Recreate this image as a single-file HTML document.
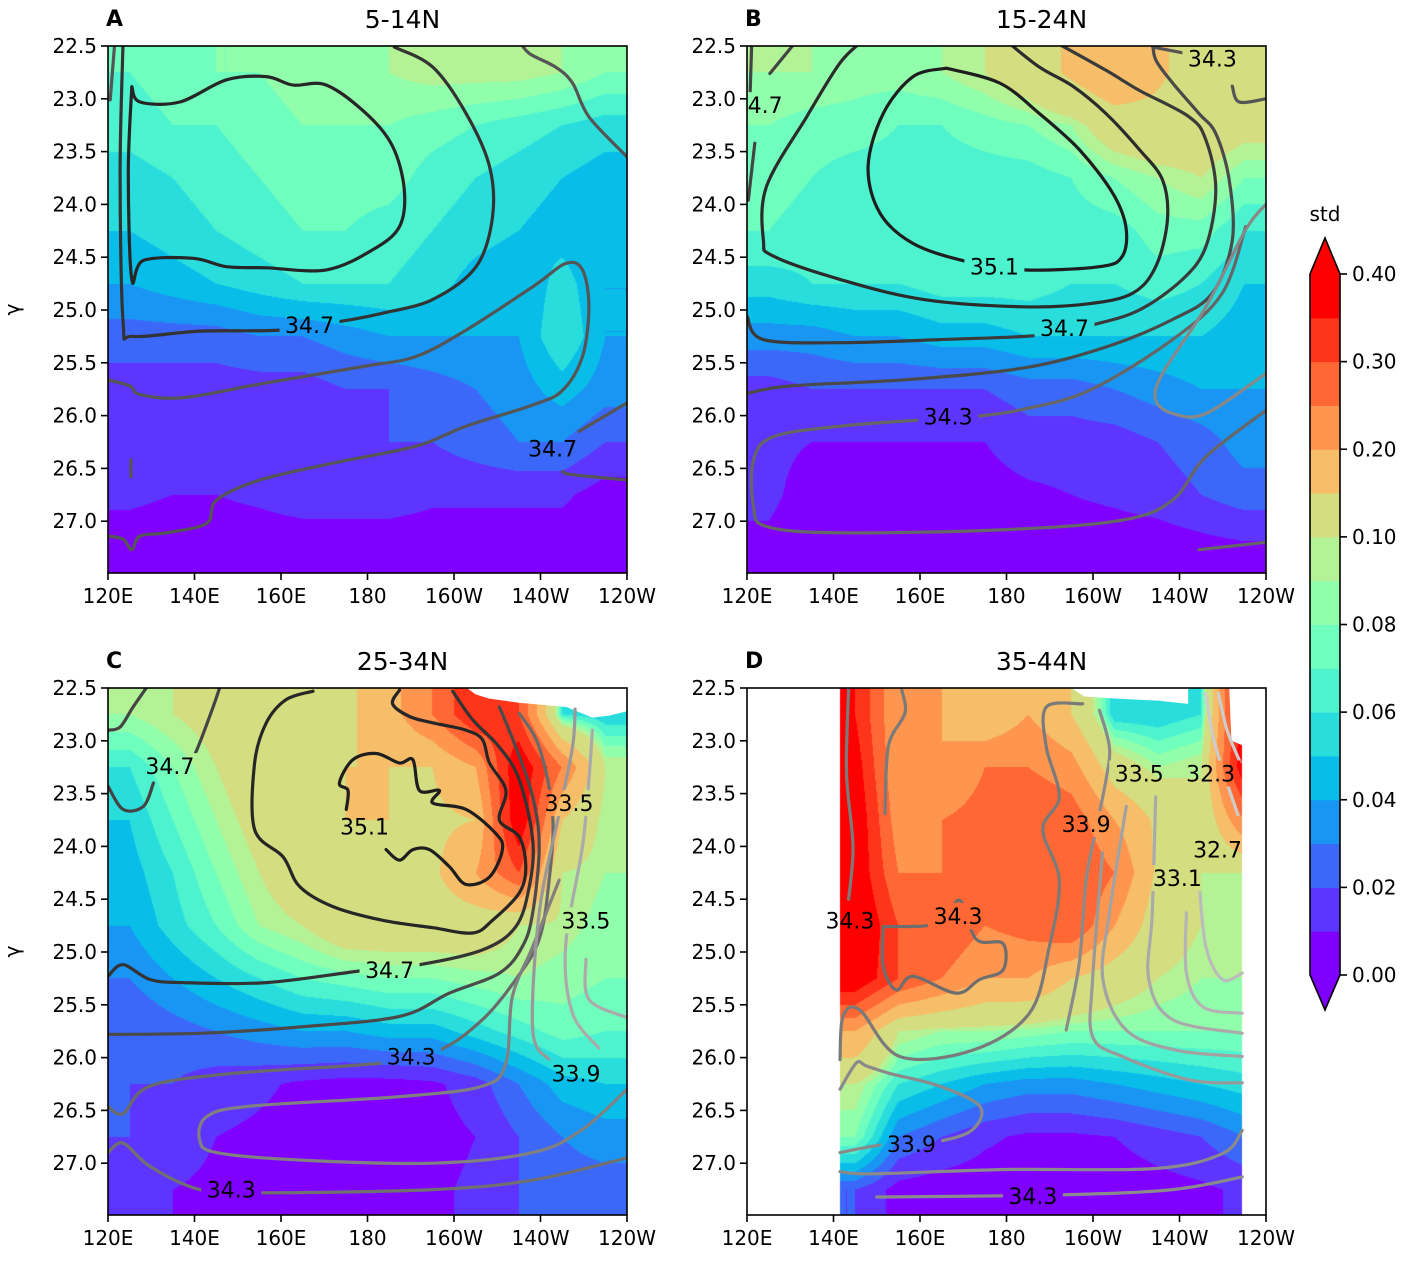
<!DOCTYPE html>
<html><head><meta charset="utf-8">
<style>
html,body{margin:0;padding:0;background:#fff;}
#wrap{position:relative;width:1417px;height:1262px;overflow:hidden;font-family:"DejaVu Sans","Liberation Sans",sans-serif;}
canvas{position:absolute;}
svg{position:absolute;left:0;top:0;}
</style></head>
<body>
<div id="wrap">
<canvas id="cvA" width="519" height="527" style="left:108px;top:46px"></canvas>
<canvas id="cvB" width="519" height="527" style="left:747px;top:46px"></canvas>
<canvas id="cvC" width="519" height="527" style="left:108px;top:688px"></canvas>
<canvas id="cvD" width="519" height="527" style="left:747px;top:688px"></canvas>
<svg id="svg" width="1417" height="1262" xmlns="http://www.w3.org/2000/svg"></svg>
</div>
<script>
// ---------- data ----------
const levels = [0,0.01,0.02,0.03,0.04,0.05,0.06,0.07,0.08,0.09,0.10,0.15,0.20,0.25,0.30,0.35,0.40];
const xTicks = [120,140,160,180,200,220,240];
const xTickLabels = ['120E','140E','160E','180','160W','140W','120W'];
const yTicks = [22.5,23.0,23.5,24.0,24.5,25.0,25.5,26.0,26.5,27.0];
const cbTickLevels = [0,0.02,0.04,0.06,0.08,0.10,0.20,0.30,0.40];
const titles = ['5-14N','15-24N','25-34N','35-44N'];
const letters = ['A','B','C','D'];
const gridLons = [125,135,145,155,165,175,185,195,205,215,225,235];
const gridGammas = [22.75,23.25,23.75,24.25,24.75,25.25,25.75,26.25,26.75,27.25];

const stdA = [
[0.07,0.075,0.08,0.08,0.085,0.085,0.09,0.095,0.095,0.095,0.09,0.08],
[0.065,0.07,0.07,0.075,0.08,0.08,0.08,0.075,0.07,0.065,0.06,0.055],
[0.055,0.06,0.065,0.07,0.075,0.075,0.075,0.065,0.06,0.055,0.05,0.045],
[0.05,0.055,0.06,0.065,0.07,0.07,0.065,0.06,0.055,0.05,0.045,0.04],
[0.04,0.045,0.05,0.055,0.06,0.06,0.06,0.055,0.045,0.04,0.055,0.04],
[0.025,0.025,0.025,0.03,0.03,0.035,0.04,0.04,0.04,0.04,0.06,0.04],
[0.015,0.015,0.015,0.015,0.015,0.02,0.02,0.025,0.03,0.035,0.045,0.035],
[0.02,0.015,0.015,0.015,0.015,0.015,0.02,0.02,0.025,0.03,0.03,0.02],
[0.012,0.01,0.01,0.012,0.015,0.015,0.015,0.012,0.012,0.012,0.012,0.005],
[0.005,0.004,0.004,0.004,0.004,0.004,0.004,0.004,0.004,0.004,0.004,0.004]];
const stdB = [
[0.09,0.09,0.085,0.085,0.09,0.10,0.12,0.16,0.20,0.16,0.12,0.10],
[0.08,0.075,0.075,0.07,0.07,0.075,0.08,0.09,0.12,0.13,0.12,0.11],
[0.075,0.07,0.065,0.065,0.065,0.065,0.065,0.07,0.08,0.09,0.10,0.08],
[0.07,0.065,0.065,0.065,0.065,0.065,0.065,0.065,0.065,0.075,0.075,0.06],
[0.055,0.06,0.06,0.06,0.065,0.065,0.065,0.06,0.06,0.065,0.06,0.05],
[0.035,0.035,0.04,0.04,0.045,0.045,0.05,0.05,0.05,0.05,0.05,0.045],
[0.015,0.02,0.02,0.02,0.02,0.02,0.025,0.025,0.03,0.035,0.04,0.04],
[0.012,0.01,0.01,0.01,0.01,0.01,0.015,0.015,0.015,0.02,0.025,0.035],
[0.012,0.006,0.008,0.006,0.006,0.006,0.008,0.01,0.012,0.015,0.02,0.025],
[0.008,0.004,0.004,0.004,0.004,0.004,0.004,0.004,0.004,0.004,0.006,0.008]];
const stdC = [
[0.09,0.10,0.11,0.12,0.13,0.14,0.18,0.25,0.35,0.30,0.06,0.05],
[0.06,0.08,0.10,0.12,0.14,0.15,0.15,0.15,0.20,0.40,0.25,0.10],
[0.05,0.07,0.09,0.11,0.14,0.15,0.15,0.14,0.15,0.40,0.15,0.09],
[0.045,0.06,0.08,0.10,0.12,0.14,0.15,0.14,0.20,0.30,0.10,0.09],
[0.04,0.055,0.07,0.09,0.10,0.12,0.12,0.12,0.12,0.10,0.095,0.085],
[0.03,0.04,0.05,0.06,0.07,0.075,0.08,0.08,0.085,0.09,0.085,0.08],
[0.02,0.025,0.03,0.035,0.04,0.04,0.045,0.045,0.055,0.065,0.075,0.07],
[0.02,0.02,0.015,0.012,0.008,0.006,0.006,0.008,0.015,0.03,0.045,0.05],
[0.02,0.015,0.01,0.008,0.006,0.005,0.005,0.006,0.01,0.02,0.03,0.035],
[0.012,0.01,0.008,0.006,0.006,0.006,0.006,0.008,0.012,0.02,0.025,0.025]];
const stdD = [
[0.35,0.35,0.35,0.20,0.20,0.15,0.20,0.15,0.05,0.05,0.06,0.40],
[0.38,0.38,0.38,0.20,0.20,0.25,0.25,0.22,0.12,0.09,0.10,0.40],
[0.40,0.40,0.40,0.22,0.25,0.27,0.30,0.28,0.20,0.14,0.10,0.25],
[0.40,0.40,0.40,0.25,0.25,0.30,0.30,0.30,0.25,0.14,0.10,0.10],
[0.42,0.42,0.42,0.30,0.30,0.25,0.27,0.30,0.20,0.12,0.10,0.095],
[0.40,0.40,0.40,0.30,0.25,0.20,0.20,0.15,0.12,0.10,0.09,0.09],
[0.20,0.20,0.20,0.10,0.09,0.09,0.085,0.08,0.08,0.08,0.08,0.08],
[0.10,0.10,0.10,0.06,0.05,0.04,0.035,0.035,0.04,0.045,0.05,0.055],
[0.08,0.08,0.08,0.03,0.02,0.012,0.008,0.008,0.01,0.015,0.02,0.03],
[0.02,0.02,0.02,0.006,0.004,0.004,0.004,0.004,0.004,0.006,0.008,0.012]];
const validLonA = [120,240], validLonB = [120,240], validLonC = [120,240], validLonD = [141.5,234.5];
const missingC = [[203,22.5],[240,22.5],[240,22.72],[236,22.76],[232,22.78],[226,22.68],[215,22.64],[208,22.6],[205,22.56]];
const missingD1 = [[195,22.5],[222,22.5],[222,22.65],[215,22.62],[205,22.6],[198,22.58]];
const missingD2 = [[231.5,22.5],[235,22.5],[235,23.05],[232,23.0]];

// contour lines: [lon, gamma] pairs
const contA1 = [[125.5,22.885],[127.4,23.03],[136.6,23.03],[147.4,22.82],[156.6,22.79],[162.8,22.87],[170.5,22.87],[179.7,23.14],[185.8,23.45],[188.5,23.86],[187.4,24.21],[181.2,24.43],[170.5,24.62],[156.6,24.60],[147.4,24.59],[139.7,24.51],[128.2,24.53],[125.5,24.71],[124.7,23.70],[125.5,22.885]];
const contA2 = [[186.2,22.51],[195.1,22.70],[202.8,23.14],[208.2,23.64],[208.9,24.12],[205.1,24.59],[195.1,24.90],[183.5,25.03],[173.5,25.11],[159.7,25.19],[141.2,25.20],[125.8,25.25],[123.5,25.12],[122.8,23.70],[123.5,22.45]];
const contA3 = [[120,25.66],[125.1,25.72],[127.4,25.80],[137.4,25.83],[156.6,25.69],[179.7,25.53],[191.2,25.44],[202.8,25.19],[218.2,24.78],[225.8,24.56],[229.7,24.62],[231.2,24.97],[229.7,25.44],[225.1,25.76],[218.2,25.90],[202.8,26.10],[191.2,26.29],[172.0,26.45],[155.1,26.61],[145.1,26.80],[142.8,27.02],[133.5,27.11],[127.4,27.14],[125.5,27.27],[123.5,27.17],[120,27.14]];
const contA4 = [[215.1,22.45],[217.4,22.57],[223.5,22.70],[227.4,22.85],[231.2,23.17],[240,23.55]];
const contA5 = [[228.9,26.15],[240,25.88]];
const contA6 = [[225.1,26.53],[227.4,26.56],[240,26.61]];
const contA7 = [[120.5,23.01],[121.6,22.45]];
const contA8 = [[125.3,26.42],[125.3,26.58]];
const contB1 = [[166.1,22.71],[178.4,22.85],[187.6,23.14],[196.8,23.48],[204.5,23.89],[207.6,24.21],[206.8,24.49],[201.5,24.59],[183.8,24.62],[170.7,24.54],[158.4,24.37],[150.7,24.08],[148.0,23.64],[151.5,23.14],[158.4,22.79],[166.1,22.71]];
const contB2 = [[146.8,22.45],[141.5,22.66],[133.8,23.17],[124.5,23.83],[123.8,24.34],[126.1,24.49],[141.5,24.71],[160.7,24.90],[183.8,24.97],[199.2,24.94],[209.2,24.84],[214.5,24.59],[217.2,24.15],[216.1,23.77],[210.7,23.48],[203.0,23.14],[195.3,22.88],[187.6,22.70],[179.9,22.45]];
const contB3 = [[120,25.06],[123.8,25.28],[141.5,25.31],[164.5,25.28],[187.6,25.24],[199.9,25.14],[210.7,25.0],[220.7,24.71],[226.1,24.40],[228.4,23.86],[226.1,23.39],[222.2,23.17],[210.7,22.92],[203.0,22.73],[190.7,22.45]];
const contB4 = [[120,25.79],[129.9,25.72],[156.8,25.66],[183.8,25.55],[203,25.35],[218.4,25.09],[227.6,24.84],[232.2,24.34],[231.5,23.77],[228.4,23.33],[224.5,23.14],[218.4,22.85],[214.5,22.63],[213.8,22.45]];
const contB5 = [[235.3,24.21],[229.9,24.84],[218.4,25.28],[199.2,25.76],[183.8,25.94],[172.2,26.01],[160.7,26.04],[141.5,26.10],[126.1,26.20],[121.5,26.42],[121.5,26.86],[124.5,27.05],[141.5,27.11],[179.9,27.08],[206.8,26.99],[218.4,26.80],[226.1,26.39],[240,25.95]];
const contB6 = [[240,24.0],[235.3,24.24],[226.1,24.97],[216.1,25.60],[214.5,25.85],[218.4,25.98],[226.1,25.98],[240,25.6]];
const contB7 = [[213.8,22.51],[221.5,22.57]];
const contB8 = [[232.2,22.88],[233.8,23.03],[240,23.0]];
const contB9 = [[125.3,22.76],[131.5,22.45]];
const contB10 = [[120.3,23.96],[121.8,23.42]];
const contB11 = [[121.1,22.45],[120.7,22.98]];
const contB12 = [[224.5,27.27],[240,27.2]];
const contC1 = [[175.1,23.65],[175.5,23.47],[173.5,23.40],[176.6,23.18],[182.0,23.12],[187.4,23.21],[190.5,23.18],[192.0,23.47],[196.6,23.47],[195.1,23.59],[202.8,23.65],[209.7,23.88],[211.2,24.03],[208.2,24.29],[202.8,24.36],[198.9,24.19],[194.3,24.03],[190.5,24.03],[187.4,24.13],[184.3,24.03]];
const contC2 = [[167.4,22.53],[161.2,22.61],[156.6,22.83],[153.9,23.21],[153.9,23.84],[160.5,24.10],[164.3,24.38],[172.0,24.57],[183.5,24.70],[195.1,24.77],[204.3,24.82],[208.9,24.70],[215.1,24.44],[216.6,24.19],[215.1,23.91],[210.5,23.75],[212.0,23.47],[208.2,23.21],[206.6,22.99],[202.8,22.90],[195.1,22.83],[189.7,22.77],[185.8,22.65],[187.4,22.52]];
const contC3 = [[120,25.23],[123.5,25.12],[129.7,25.26],[137.4,25.29],[156.6,25.29],[178.2,25.18],[192.0,25.12],[206.6,24.98],[214.3,24.76],[217.4,24.38],[218.2,23.94],[215.1,23.37],[210.5,23.06],[204.3,22.80],[199.7,22.53]];
const contC4 = [[120,25.78],[141.2,25.77],[164.3,25.71],[187.4,25.61],[198.9,25.39],[210.5,25.20],[215.8,24.95],[218.2,24.63],[219.7,24.00],[218.2,23.53],[214.3,23.06],[210.5,22.68]];
const contC5 = [[120,26.46],[123.5,26.53],[129.7,26.27],[148.9,26.15],[183.5,26.05],[196.6,25.93],[206.6,25.64],[214.3,25.26],[219.7,24.88],[222.0,24.32],[222.8,23.69],[219.7,23.06],[215.1,22.74]];
const contC6 = [[224.3,24.32],[218.2,24.95],[213.5,25.42],[212.0,26.05],[206.6,26.27],[187.4,26.37],[152.8,26.46],[142.8,26.56],[141.2,26.78],[145.1,26.90],[164.3,26.97],[195.1,27.0],[218.2,26.90],[229.7,26.68],[240,26.3]];
const contC7 = [[120,26.90],[123.5,26.81],[129.7,27.03],[141.2,27.25],[155.1,27.28],[195.1,27.25],[218.2,27.16],[240,26.95]];
const contC8 = [[222.0,26.02],[218.2,25.74],[219.7,24.63],[224.3,23.69],[227.4,23.06],[228,22.7]];
const contC9 = [[233.5,25.91],[227.4,25.58],[225.8,24.95],[229.7,24.0],[231.2,23.37],[232,22.9]];
const contC10 = [[240,25.62],[231.2,25.45],[230.5,25.07]];
const contC11 = [[120,22.90],[122.8,22.87],[125.8,22.68],[129.7,22.45]];
const contC12 = [[146.2,22.45],[144.3,22.68],[140.5,23.09],[138.9,23.21]];
const contC13 = [[120,23.43],[123.5,23.65],[128.2,23.62],[130.5,23.40]];
const contD1 = [[151.5,24.76],[164.5,24.73],[169.2,24.51],[173.0,24.88],[179.2,24.92],[179.2,25.17],[173.8,25.26],[168.4,25.39],[158.4,25.23],[154.5,25.36],[151.5,25.14],[151.5,24.76]];
const contD2 = [[141.5,26.02],[142.2,25.61],[146.1,25.55],[155.3,25.99],[172.2,25.93],[185.3,25.58],[189.9,24.95],[192.2,24.32],[188.4,23.84],[192.2,23.53],[189.2,23.06],[189.2,22.68],[197.6,22.65]];
const contD3 = [[193.8,25.74],[196.8,25.11],[198.4,24.32],[200.7,23.84],[203.0,23.37],[203.8,23.06],[201.5,22.71]];
const contD4 = [[202.2,24.06],[199.9,25.26],[199.9,25.80],[206.8,25.99],[222.2,26.21],[234.5,26.24]];
const contD5 = [[207.7,23.62],[203.8,24.63],[202.3,25.26],[207.7,25.74],[219.2,25.93],[234.5,25.99]];
const contD6 = [[214.5,23.53],[213.7,24.63],[212.9,25.26],[218.4,25.64],[234.5,25.77]];
const contD7 = [[221.6,24.63],[221.6,25.20],[225.4,25.52],[234.5,25.58]];
const contD8 = [[224.5,24.32],[226.1,24.95],[229.9,25.26],[234.5,25.20]];
const contD9 = [[141.5,26.90],[152.2,26.82],[164.5,26.79],[172.2,26.68],[173.8,26.46],[164.5,26.27],[153.0,26.15],[147.6,26.08],[145.3,26.05],[141.5,26.30]];
const contD10 = [[141.5,27.08],[149.2,27.10],[179.9,27.06],[214.5,27.05],[229.9,26.91],[234.5,26.69]];
const contD11 = [[150,27.32],[192.2,27.30],[218.4,27.25],[234.5,27.13]];
const contD12 = [[155.8,22.52],[156.5,22.74],[152.7,23.05],[151.9,23.69]];
const contD13 = [[143.5,22.5],[143.0,23.3],[144.5,24.0],[143.5,24.5]];
const contD14 = [[226,22.55],[228,23.0],[231,23.4],[233.5,23.7]];
const contD15 = [[229,22.55],[231,22.9],[234,23.2]];

// label texts and positions [lon, gamma]
const labA = [['34.7',166.6,25.14],['34.7',222.8,26.31]];
const labB = [['35.1',177.2,24.59],['34.7',193.4,25.17],['34.3',166.5,26.01],['34.3',227.6,22.62],['4.7',124.2,23.06]];
const labC = [['35.1',179.3,23.81],['34.7',185.1,25.17],['34.7',134.3,23.24],['34.3',190.1,25.99],['34.3',148.5,27.25],['33.5',226.6,23.59],['33.5',230.5,24.70],['33.9',228.2,26.15]];
const labD = [['34.3',143.8,24.70],['34.3',168.8,24.66],['33.9',198.4,23.79],['33.5',210.7,23.31],['32.3',227.2,23.31],['32.7',228.8,24.03],['33.1',219.5,24.30],['33.9',158.0,26.82],['34.3',186.1,27.31]];

// ---------- helpers ----------
const NS='http://www.w3.org/2000/svg';
const svg=document.getElementById('svg');
const PW=519, PH=527;
function xS(p,lon){return p.left+(lon-120)/120*PW;}
function yS(p,g){return p.top+(g-22.5)*105.6;}
function rainbow(t){
  const r=Math.min(1,Math.abs(2*t-0.5)), g=Math.sin(Math.PI*t), b=Math.cos(Math.PI*t/2);
  return [Math.round(255*r),Math.round(255*g),Math.round(255*Math.max(0,b))];
}
function bandIndex(v){let k=0;for(let i=0;i<levels.length;i++){if(v>=levels[i])k=i;}return Math.min(15,k);}
function bandColor(k){return rainbow(k/15);}
function mk(tag,attrs,parent){const e=document.createElementNS(NS,tag);for(const k in attrs)e.setAttribute(k,attrs[k]);(parent||svg).appendChild(e);return e;}
function smoothPath(pts){
  if(pts.length<3){return pts.map((q,i)=>(i?'L':'M')+q[0].toFixed(1)+','+q[1].toFixed(1)).join('');}
  let d='M'+pts[0][0].toFixed(1)+','+pts[0][1].toFixed(1);
  for(let i=0;i<pts.length-1;i++){
    const p0=pts[Math.max(0,i-1)],p1=pts[i],p2=pts[i+1],p3=pts[Math.min(pts.length-1,i+2)];
    const c1x=p1[0]+(p2[0]-p0[0])/6,c1y=p1[1]+(p2[1]-p0[1])/6;
    const c2x=p2[0]-(p3[0]-p1[0])/6,c2y=p2[1]-(p3[1]-p1[1])/6;
    d+='C'+c1x.toFixed(1)+','+c1y.toFixed(1)+' '+c2x.toFixed(1)+','+c2y.toFixed(1)+' '+p2[0].toFixed(1)+','+p2[1].toFixed(1);
  }
  return d;
}

const panels=[
 {left:108,top:46,cv:'cvA',data:stdA,valid:validLonA,missing:[],id:'a',conts:[
   [contA1,'#262626'],[contA2,'#333'],[contA3,'#555'],[contA4,'#555'],[contA5,'#555'],[contA6,'#555'],[contA7,'#555'],[contA8,'#555']],labs:labA},
 {left:747,top:46,cv:'cvB',data:stdB,valid:validLonB,missing:[],id:'b',conts:[
   [contB1,'#1e1e1e'],[contB2,'#2b2b2b'],[contB3,'#3a3a3a'],[contB4,'#4a4a4a'],[contB5,'#666'],[contB6,'#888'],[contB7,'#555'],[contB8,'#555'],[contB9,'#444'],[contB10,'#444'],[contB11,'#444'],[contB12,'#666']],labs:labB},
 {left:108,top:688,cv:'cvC',data:stdC,valid:validLonC,missing:[missingC],id:'c',conts:[
   [contC1,'#1e1e1e'],[contC2,'#262626'],[contC3,'#333'],[contC4,'#4a4a4a'],[contC5,'#6a6a6a'],[contC6,'#808080'],[contC7,'#707070'],[contC8,'#999'],[contC9,'#aaa'],[contC10,'#aaa'],[contC11,'#444'],[contC12,'#444'],[contC13,'#444']],labs:labC},
 {left:747,top:688,cv:'cvD',data:stdD,valid:validLonD,missing:[missingD1,missingD2],id:'d',conts:[
   [contD1,'#6e6e6e'],[contD2,'#7a7a7a'],[contD3,'#8a8a8a'],[contD4,'#999'],[contD5,'#a2a2a2'],[contD6,'#aaa'],[contD7,'#b4b4b4'],[contD8,'#bbb'],[contD9,'#8a8a8a'],[contD10,'#8a8a8a'],[contD11,'#8a8a8a'],[contD12,'#7a7a7a'],[contD13,'#7a7a7a'],[contD14,'#ccc'],[contD15,'#ccc']],labs:labD}
];

function sample(data,lon,g){
  let fi=(lon-gridLons[0])/10, fj=(g-gridGammas[0])/0.5;
  fi=Math.max(0,Math.min(gridLons.length-1,fi)); fj=Math.max(0,Math.min(gridGammas.length-1,fj));
  const i0=Math.min(gridLons.length-2,Math.floor(fi)), j0=Math.min(gridGammas.length-2,Math.floor(fj));
  const a=fi-i0,b=fj-j0;
  return (data[j0][i0]*(1-a)+data[j0][i0+1]*a)*(1-b)+(data[j0+1][i0]*(1-a)+data[j0+1][i0+1]*a)*b;
}

const defs=mk('defs',{});
panels.forEach((p,pi)=>{
  const cv=document.getElementById(p.cv), ctx=cv.getContext('2d');
  const img=ctx.createImageData(PW,PH);
  for(let py=0;py<PH;py++){
    const g=22.5+(py+0.5)/105.6;
    for(let px=0;px<PW;px++){
      const lon=120+(px+0.5)/PW*120, o=(py*PW+px)*4;
      if(lon<p.valid[0]||lon>p.valid[1]){img.data[o]=255;img.data[o+1]=255;img.data[o+2]=255;img.data[o+3]=255;continue;}
      const c=bandColor(bandIndex(sample(p.data,lon,g)));
      img.data[o]=c[0];img.data[o+1]=c[1];img.data[o+2]=c[2];img.data[o+3]=255;
    }
  }
  ctx.putImageData(img,0,0);

  const cp=mk('clipPath',{id:'clip'+p.id},defs);
  mk('rect',{x:p.left,y:p.top,width:PW,height:PH},cp);
  const mask=mk('mask',{id:'mask'+p.id,maskUnits:'userSpaceOnUse',x:0,y:0,width:1417,height:1262},defs);
  mk('rect',{x:0,y:0,width:1417,height:1262,fill:'#fff'},mask);
  p.labs.forEach(l=>{
    const w=l[0].length*13.5+6;
    mk('rect',{x:xS(p,l[1])-w/2,y:yS(p,l[2])-13,width:w,height:26,fill:'#000'},mask);
  });
  const grp=mk('g',{'clip-path':'url(#clip'+p.id+')'});
  
  
  p.missing.forEach(poly=>{
    const el=mk('polygon',{points:poly.map(q=>xS(p,q[0])+','+yS(p,q[1])).join(' '),fill:'#fff'},grp);
    
    
  });
  const lg=mk('g',{mask:'url(#mask'+p.id+')'},grp);
  p.conts.forEach((c,ci)=>{
    const d=smoothPath(c[0].map(q=>[xS(p,q[0]),yS(p,q[1])]));
    const el=mk('path',{d:d,fill:'none',stroke:c[1],'stroke-width':3.2,'stroke-linejoin':'round','stroke-linecap':'round'},lg);
    
    
  });
  p.labs.forEach(l=>{
    const t=mk('text',{x:xS(p,l[1]),y:yS(p,l[2])+8,'text-anchor':'middle','font-size':22,fill:'#000'},grp);
    t.textContent=l[0];
    
    
  });
  const fr=mk('rect',{x:p.left,y:p.top,width:PW,height:PH,fill:'none',stroke:'#000','stroke-width':1.6});
  
  
  xTicks.forEach((v,i)=>{
    const x=xS(p,v);
    mk('line',{x1:x,y1:p.top+PH,x2:x,y2:p.top+PH+7,stroke:'#000','stroke-width':1.6});
    const t=mk('text',{x:x,y:p.top+PH+30,'text-anchor':'middle','font-size':20,fill:'#000'});
    t.textContent=xTickLabels[i];
    
    
  });
  yTicks.forEach(v=>{
    const y=yS(p,v);
    mk('line',{x1:p.left-7,y1:y,x2:p.left,y2:y,stroke:'#000','stroke-width':1.6});
    const t=mk('text',{x:p.left-11,y:y+7,'text-anchor':'end','font-size':20,fill:'#000'});
    t.textContent=v.toFixed(1);
    
    
  });
  const ti=mk('text',{x:p.left+PW/2+35,y:p.top-18,'text-anchor':'middle','font-size':25,fill:'#000'});
  ti.textContent=titles[pi];
  
  
  const le=mk('text',{x:p.left-2,y:p.top-20,'font-size':22,'font-weight':'bold',fill:'#000'});
  le.textContent=letters[pi];
  
  
  if(pi%2===0){
    const ya=mk('text',{x:0,y:0,'font-size':20,fill:'#000',transform:'translate(19,'+(p.top+PH/2)+') rotate(-90)','text-anchor':'middle'});
    ya.textContent='γ';
    
    
  }
});

// ---------- colorbar ----------
const cbX=1310, cbW=30, cbBot=975, cbTop=274, bandH=(cbBot-cbTop)/16;
const cb=mk('g',{});


for(let k=0;k<16;k++){
  const c=bandColor(k);
  const r=mk('rect',{x:cbX,y:cbBot-(k+1)*bandH,width:cbW,height:bandH+0.5,fill:'rgb('+c+')'},cb);
  
  
}
const cLow=bandColor(0), cHigh=bandColor(15);
mk('polygon',{points:`${cbX},${cbBot} ${cbX+cbW},${cbBot} ${cbX+cbW/2},${cbBot+35}`,fill:'rgb('+cLow+')'},cb);
mk('polygon',{points:`${cbX},${cbTop} ${cbX+cbW},${cbTop} ${cbX+cbW/2},${cbTop-36}`,fill:'rgb('+cHigh+')'},cb);
mk('polygon',{points:`${cbX},${cbTop} ${cbX+cbW/2},${cbTop-36} ${cbX+cbW},${cbTop} ${cbX+cbW},${cbBot} ${cbX+cbW/2},${cbBot+35} ${cbX},${cbBot}`,fill:'none',stroke:'#000','stroke-width':1.6},cb);
cbTickLevels.forEach(v=>{
  const idx=levels.indexOf(v);
  const y=cbBot-idx*bandH;
  mk('line',{x1:cbX+cbW,y1:y,x2:cbX+cbW+7,y2:y,stroke:'#000','stroke-width':1.6},cb);
  const t=mk('text',{x:cbX+cbW+12,y:y+7,'font-size':20,fill:'#000'},cb);
  t.textContent=v.toFixed(2);
  
  
});
const st=mk('text',{x:1325,y:221,'text-anchor':'middle','font-size':20,fill:'#000'});
st.textContent='std';


</script>
</body></html>
